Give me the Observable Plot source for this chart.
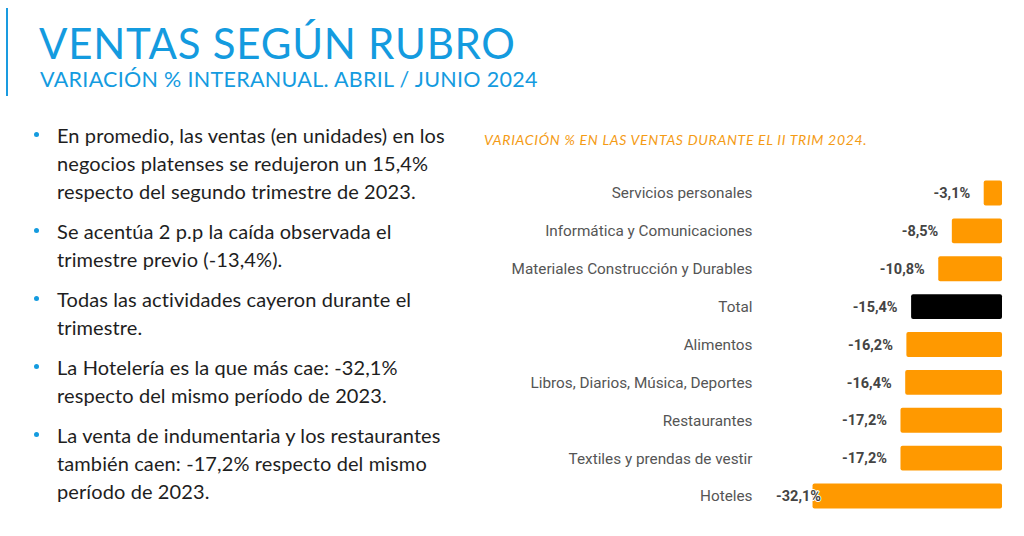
<!DOCTYPE html>
<html>
<head>
<meta charset="utf-8">
<script src="https://cdn.jsdelivr.net/npm/d3@7"></script>
<script src="https://cdn.jsdelivr.net/npm/@observablehq/plot@0.6"></script>
<style>
  html, body { margin: 0; padding: 0; background: #fff; width: 1024px; height: 536px; overflow: hidden; }
  #page { position: relative; width: 1024px; height: 536px; }
  .vline { position: absolute; left: 6px; top: 8px; width: 2px; height: 88px; background: #1a9be0; }
  .title { position: absolute; left: 39px; top: 22px; font-family: Lato, sans-serif; font-size: 42px; line-height: 42px; color: #149bdf; white-space: nowrap; letter-spacing: 0.75px; }
  .subtitle { position: absolute; left: 40px; top: 68px; font-family: Lato, sans-serif; font-size: 21.5px; line-height: 22px; color: #149bdf; white-space: nowrap; letter-spacing: 0.3px; }
  .bullets { position: absolute; left: 57px; top: 121px; font-family: Lato, sans-serif; font-size: 20px; line-height: 28px; color: #1e1e1e; letter-spacing: 0.1px; }
  .bullets p { margin: 0 0 12px 0; position: relative; white-space: nowrap; }
  .bullets p::before { content: ""; position: absolute; left: -23px; top: 11px; width: 5px; height: 5px; border-radius: 50%; background: #149bdf; }
  .ctitle { position: absolute; left: 484px; top: 131px; font-family: Lato, sans-serif; font-style: italic; font-size: 14px; line-height: 18px; color: #f49b14; white-space: nowrap; letter-spacing: 0.7px; }
  #chart { position: absolute; left: 470px; top: 160px; }
</style>
</head>
<body>
<div id="page">
  <div class="vline"></div>
  <div class="title">VENTAS SEGÚN RUBRO</div>
  <div class="subtitle">VARIACIÓN % INTERANUAL. ABRIL / JUNIO 2024</div>
  <div class="bullets">
    <p>En promedio, las ventas (en unidades) en los<br>negocios platenses se redujeron un 15,4%<br>respecto del segundo trimestre de 2023.</p>
    <p>Se acentúa 2 p.p la caída observada el<br>trimestre previo (-13,4%).</p>
    <p>Todas las actividades cayeron durante el<br>trimestre.</p>
    <p>La Hotelería es la que más cae: -32,1%<br>respecto del mismo período de 2023.</p>
    <p>La venta de indumentaria y los restaurantes<br>también caen: -17,2% respecto del mismo<br>período de 2023.</p>
  </div>
  <div class="ctitle">VARIACIÓN % EN LAS VENTAS DURANTE EL II TRIM 2024.</div>
  <div id="chart"></div>
</div>
<script>
const categories = [
  "Servicios personales",
  "Informática y Comunicaciones",
  "Materiales Construcción y Durables",
  "Total",
  "Alimentos",
  "Libros, Diarios, Música, Deportes",
  "Restaurantes",
  "Textiles y prendas de vestir",
  "Hoteles"
];
const values = [-3.1, -8.5, -10.8, -15.4, -16.2, -16.4, -17.2, -17.2, -32.1];
const highlight = "Total";

const data = categories.map((c, i) => ({cat: c, value: values[i]}));
const fmt = v => v.toFixed(1).replace(".", ",") + "%";
const minVal = d3.min(values);

const chart = Plot.plot({
  width: 540,
  height: 365,
  marginLeft: 290,
  marginRight: 8,
  marginTop: 14,
  marginBottom: 10,
  x: {domain: [-41, 0], axis: null},
  y: {domain: categories, padding: 0, round: false, axis: null},
  style: {fontFamily: "Roboto, sans-serif", background: "transparent", overflow: "visible"},
  marks: [
    Plot.axisY({tickSize: 0, tickPadding: 8, fontSize: 15.3, color: "#555", label: null}),
    Plot.barX(data.filter(d => d.cat !== highlight), {x: "value", y: "cat", fill: "#ff9900", insetTop: 6.5, insetBottom: 6.5, rx: 2}),
    Plot.barX(data.filter(d => d.cat === highlight), {x: "value", y: "cat", fill: "#000000", insetTop: 6.5, insetBottom: 6.5, rx: 2}),
    Plot.text(data.filter(d => d.value !== minVal), {x: "value", y: "cat", text: d => fmt(d.value), textAnchor: "end", dx: -14, fontSize: 14.5, fontWeight: "bold", fill: "#444"}),
    Plot.text(data.filter(d => d.value === minVal), {x: "value", y: "cat", text: d => fmt(d.value), textAnchor: "end", dx: 8, fontSize: 14.5, fontWeight: "bold", fill: "#444", stroke: "#fff", strokeWidth: 2, paintOrder: "stroke"})
  ]
});
document.getElementById("chart").appendChild(chart);
</script>
</body>
</html>
